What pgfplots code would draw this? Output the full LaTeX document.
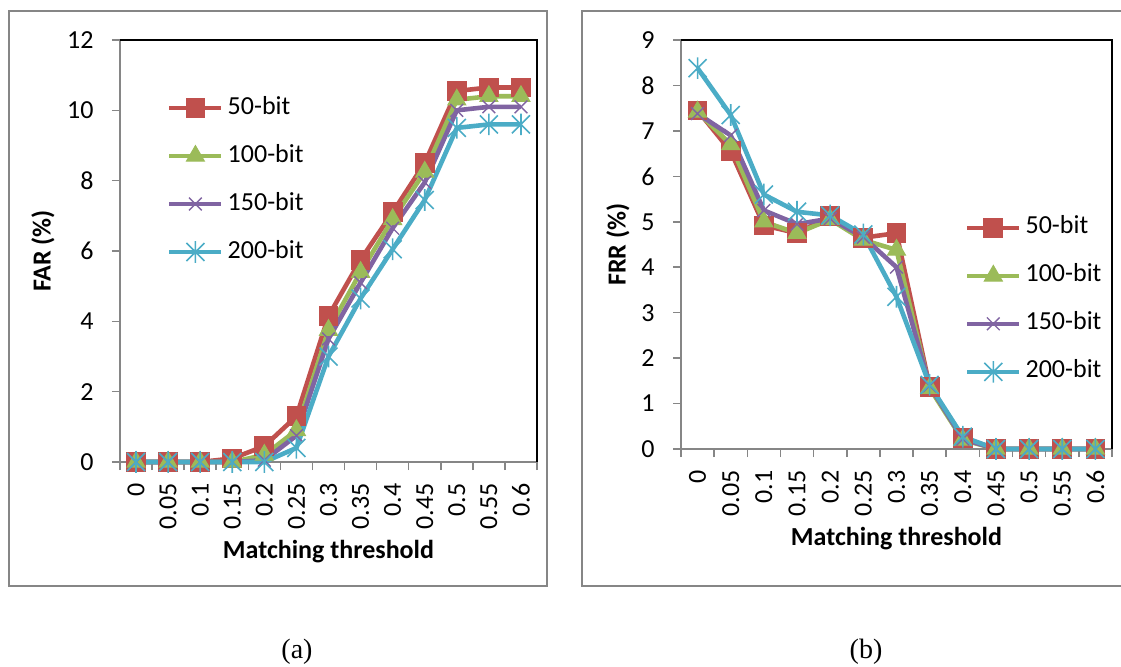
\documentclass[border=0pt]{standalone}
\usepackage{fontspec}
\setmainfont{Carlito}
\newfontfamily\capfont{Liberation Serif}
\usepackage{pgfplots}
\usepackage{pgfplotstable}
\pgfplotsset{compat=1.18}

\definecolor{xred}{HTML}{C0504D}
\definecolor{xgreen}{HTML}{9BBB59}
\definecolor{xpurple}{HTML}{8064A2}
\definecolor{xcyan}{HTML}{4BACC6}
\definecolor{xgray}{HTML}{868686}

% Excel-like star marker: x plus vertical bar
\pgfdeclareplotmark{xstar}{%
  \pgfpathmoveto{\pgfqpoint{-\pgfplotmarksize}{-\pgfplotmarksize}}%
  \pgfpathlineto{\pgfqpoint{\pgfplotmarksize}{\pgfplotmarksize}}%
  \pgfpathmoveto{\pgfqpoint{-\pgfplotmarksize}{\pgfplotmarksize}}%
  \pgfpathlineto{\pgfqpoint{\pgfplotmarksize}{-\pgfplotmarksize}}%
  \pgfpathmoveto{\pgfqpoint{0pt}{-1.2\pgfplotmarksize}}%
  \pgfpathlineto{\pgfqpoint{0pt}{1.2\pgfplotmarksize}}%
  \pgfusepathqstroke}

% x index: 0..12 -> thresholds 0, 0.05, ..., 0.6
\pgfplotstableread{
x  s50   s100  s150  s200
0  0     0     0     0
1  0     0     0     0
2  0     0     0     0
3  0.1   0     0     0
4  0.45  0.2   0.05  0
5  1.3   0.9   0.75  0.4
6  4.15  3.75  3.5   3.0
7  5.75  5.4   5.1   4.65
8  7.1   6.9   6.65  6.05
9  8.5   8.25  7.95  7.45
10 10.55 10.3  10.0  9.5
11 10.65 10.4  10.1  9.6
12 10.65 10.4  10.1  9.6
}\fartable

\pgfplotstableread{
x  s50   s100  s150  s200
0  7.45  7.42  7.38  8.38
1  6.55  6.7   6.9   7.35
2  4.92  5.0   5.25  5.6
3  4.75  4.75  4.95  5.22
4  5.12  5.05  5.07  5.14
5  4.65  4.6   4.66  4.72
6  4.75  4.38  4.0   3.35
7  1.37  1.34  1.39  1.41
8  0.25  0.2   0.22  0.27
9  0     0     0     0
10 0     0     0     0
11 0     0     0     0
12 0     0     0     0
}\frrtable

\pgfplotscreateplotcyclelist{xl}{
  {xred, line width=2.3pt, mark=square*, mark size=4.7pt, mark options={fill=xred, line width=0.5pt}},
  {xgreen, line width=2.3pt, mark=triangle*, mark size=5.2pt, mark options={fill=xgreen, line width=0.5pt}},
  {xpurple, line width=2.3pt, mark=x, mark size=4.5pt, mark options={line width=0.7pt}},
  {xcyan, line width=2.3pt, mark=xstar, mark size=4.5pt, mark options={line width=0.8pt}}%
}

\pgfplotsset{
  xlchart/.style={
    scale only axis,
    clip=false,
    cycle list name=xl,
    xmin=-0.5, xmax=12.5,
    xtick={0,...,12},
    xticklabels={0,0.05,0.1,0.15,0.2,0.25,0.3,0.35,0.4,0.45,0.5,0.55,0.6},
    minor xtick={-0.5,0.5,...,12.5},
    axis x line*=bottom,
    axis y line*=left,
    axis line style={xgray, line width=0.75pt},
    tick align=outside,
    major tick length=4pt,
    minor tick length=4pt,
    tick style={xgray, line width=0.75pt},
    major x tick style={draw=none},
    tick label style={font=\fontsize{13}{15}\selectfont, black},
    xticklabel style={rotate=90, anchor=east, inner sep=0pt},
    yticklabel style={inner sep=0pt},
    xticklabel shift=6.5pt,
    yticklabel shift=9pt,
    label style={font=\bfseries\fontsize{13}{15}\selectfont},
    xlabel style={at={(axis description cs:0.5,0)}, anchor=center, yshift=-45pt},
    legend style={draw=none, fill=none, inner sep=0pt, outer sep=0pt,
      anchor=north west, row sep=10pt, column sep=1pt,
      font=\fontsize{13}{15}\selectfont,
      nodes={inner sep=1pt, text height=9pt, text depth=3pt}},
    legend cell align=left,
    legend image code/.code={%
      \draw[mark repeat=2, mark phase=2, ##1] plot coordinates {(0pt,0pt) (13pt,0pt) (26pt,0pt)};},
  }
}

\begin{document}
\begin{tikzpicture}
\begin{scope}[x=0.5pt, y=0.5pt]
\path[use as bounding box] (0,0) rectangle (1121,666);
\draw[xgray, line width=0.75pt] (9,80) rectangle (547,655);
\draw[xgray, line width=0.75pt] (582,80) rectangle (1126,655);
\node[font=\capfont\fontsize{14}{16}\selectfont] at (297,14) {(a)};
\node[font=\capfont\fontsize{14}{16}\selectfont] at (866,14) {(b)};
\end{scope}

\begin{axis}[xlchart,
  at={(60pt,102pt)}, anchor=south west,
  width=208.5pt, height=211pt,
  ymin=0, ymax=12,
  ytick={0,2,...,12},
  yticklabels={0,2,4,6,8,10,12},
  xlabel={Matching threshold},
  ylabel={FAR (\%)},
  ylabel style={at={(axis description cs:0,0.5)}, anchor=center, yshift=38.5pt},
  legend style={at={(rel axis cs:0.113,0.872)}},
]
\addplot table[x=x, y=s50] {\fartable};
\addplot table[x=x, y=s100] {\fartable};
\addplot table[x=x, y=s150] {\fartable};
\addplot table[x=x, y=s200] {\fartable};
\legend{50-bit,100-bit,150-bit,200-bit}
\draw[black, line width=0.75pt] (rel axis cs:0,1) -- (rel axis cs:1,1) -- (rel axis cs:1,0);
\end{axis}

\begin{axis}[xlchart,
  at={(340.5pt,108.5pt)}, anchor=south west,
  width=215.5pt, height=204.5pt,
  ymin=0, ymax=9,
  ytick={0,1,...,9},
  yticklabels={0,1,2,3,4,5,6,7,8,9},
  xlabel={Matching threshold},
  ylabel={FRR (\%)},
  ylabel style={at={(axis description cs:0,0.5)}, anchor=center, yshift=31.5pt},
  legend style={at={(rel axis cs:0.659,0.575)}},
]
\addplot table[x=x, y=s50] {\frrtable};
\addplot table[x=x, y=s100] {\frrtable};
\addplot table[x=x, y=s150] {\frrtable};
\addplot table[x=x, y=s200] {\frrtable};
\legend{50-bit,100-bit,150-bit,200-bit}
\draw[black, line width=0.75pt] (rel axis cs:0,1) -- (rel axis cs:1,1) -- (rel axis cs:1,0);
\end{axis}
\end{tikzpicture}
\end{document}
